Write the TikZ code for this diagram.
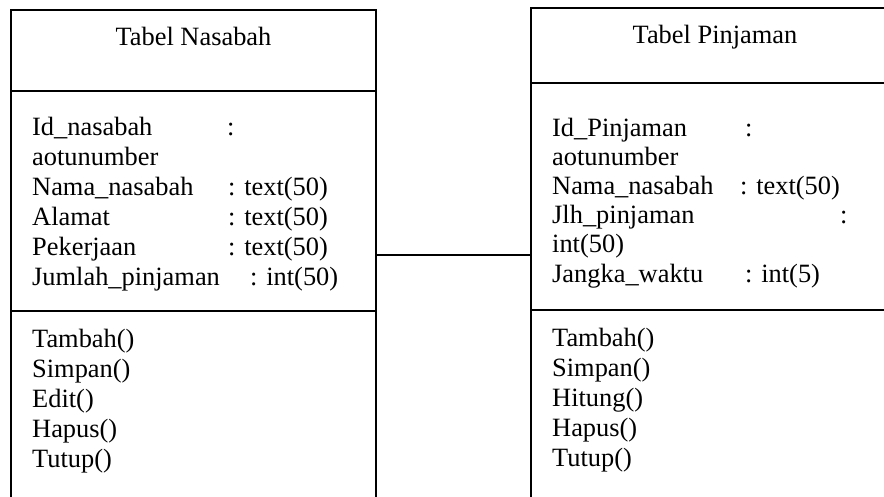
\documentclass[tikz,border=0pt]{standalone}
\usepackage{fontspec}
\setmainfont{Liberation Serif}
\begin{document}
\begin{tikzpicture}[x=1pt,y=-1pt,
  classbox/.style={draw=black,line width=2pt,inner sep=0pt,rectangle},
  divider/.style={draw=black,line width=2.2pt},
  link/.style={draw=black,line width=1.6pt},
  txt/.style={anchor=base west,inner sep=0pt,font=\fontsize{26.4}{30}\selectfont},
  ttl/.style={anchor=base,inner sep=0pt,font=\fontsize{26.4}{30}\selectfont}]
\clip (0,0) rectangle (884,496);
\fill[white] (0,0) rectangle (884,496);

% class boxes (they run past the lower and right border)
\node[classbox,minimum width=365,minimum height=490] (nas) at (193.5,255) {};
\node[classbox,minimum width=368,minimum height=494] (pin) at (715,255) {};

% compartment lines
\draw[divider] (nas.west |- 0,91) -- (nas.east |- 0,91);
\draw[divider] (nas.west |- 0,311) -- (nas.east |- 0,311);
\draw[divider] (pin.west |- 0,83) -- (pin.east |- 0,83);
\draw[divider] (pin.west |- 0,310) -- (pin.east |- 0,310);

% association
\draw[link] (nas.east) -- (pin.west);

% Tabel Nasabah
\node[ttl] (nasT) at (193.5,45) {Tabel Nasabah};
\node[txt] (na1) at (32,135) {Id\_nasabah};
\node[txt] (na1c) at (227,135) {:};
\node[txt] (na2) at (32,165) {aotunumber};
\node[txt] (na3) at (32,195) {Nama\_nasabah};
\node[txt] (na3c) at (228,195) {: text(50)};
\node[txt] (na4) at (32,225) {Alamat};
\node[txt] (na4c) at (228,225) {: text(50)};
\node[txt] (na5) at (32,255) {Pekerjaan};
\node[txt] (na5c) at (228,255) {: text(50)};
\node[txt] (na6) at (32,285) {Jumlah\_pinjaman};
\node[txt] (na6c) at (250,285) {: int(50)};
\node[txt] (nm1) at (32,347) {Tambah()};
\node[txt] (nm2) at (32,377) {Simpan()};
\node[txt] (nm3) at (32,407) {Edit()};
\node[txt] (nm4) at (32,437) {Hapus()};
\node[txt] (nm5) at (32,467) {Tutup()};

% Tabel Pinjaman
\node[ttl] (pinT) at (715,43) {Tabel Pinjaman};
\node[txt] (pa1) at (552,136) {Id\_Pinjaman};
\node[txt] (pa1c) at (745,136) {:};
\node[txt] (pa2) at (552,165) {aotunumber};
\node[txt] (pa3) at (552,194) {Nama\_nasabah};
\node[txt] (pa3c) at (740,194) {: text(50)};
\node[txt] (pa4) at (552,223) {Jlh\_pinjaman};
\node[txt] (pa4c) at (840,223) {:};
\node[txt] (pa5) at (552,252) {int(50)};
\node[txt] (pa6) at (552,282) {Jangka\_waktu};
\node[txt] (pa6c) at (745,282) {: int(5)};
\node[txt] (pm1) at (552,346) {Tambah()};
\node[txt] (pm2) at (552,376) {Simpan()};
\node[txt] (pm3) at (552,406) {Hitung()};
\node[txt] (pm4) at (552,436) {Hapus()};
\node[txt] (pm5) at (552,466) {Tutup()};
\end{tikzpicture}
\end{document}
